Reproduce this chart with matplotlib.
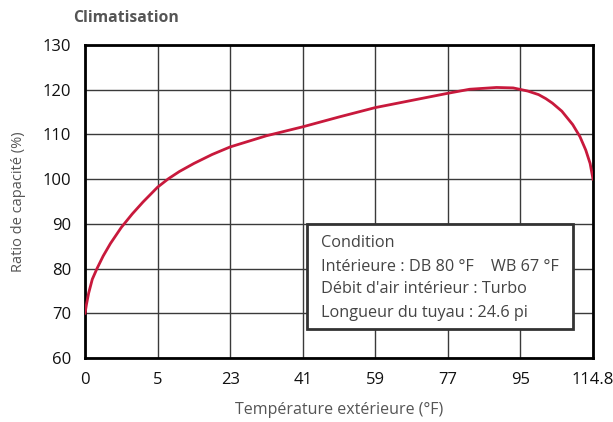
import matplotlib.pyplot as plt

# x axis is evenly spaced categories, curve is drawn on the index positions
etiquettes_x = ['0', '5', '23', '41', '59', '77', '95', '114.8']
graduations_y = [60, 70, 80, 90, 100, 110, 120, 130]

# points (position on the category axis, ratio %)
pos_courbe = [0, 0.02, 0.05, 0.1, 0.165, 0.25, 0.35, 0.5, 0.65, 0.8, 1.0,
              1.15, 1.3, 1.5, 1.75, 2.0, 2.5, 3.0, 3.5, 4.0, 4.5, 5.0, 5.3,
              5.67, 5.9, 6.1, 6.25, 6.35, 6.44, 6.57, 6.72, 6.82, 6.9, 6.96, 7.0]
ratio = [70, 72.0, 74.5, 77.6, 80.0, 82.8, 85.6, 89.2, 92.2, 94.9, 98.2,
         100.1, 101.7, 103.5, 105.5, 107.2, 109.7, 111.7, 113.9, 116.0, 117.6, 119.2, 120.1,
         120.5, 120.4, 119.7, 118.9, 118.0, 117.0, 115.2, 112.2, 109.5, 106.5, 103.5, 100]

conditions = ['Condition',
              'Intérieure : DB 80 °F    WB 67 °F',
              "Débit d'air intérieur : Turbo",
              'Longueur du tuyau : 24.6 pi']

plt.rcParams['font.family'] = ['Open Sans', 'DejaVu Sans']

fig = plt.figure(figsize=(6.13, 4.22), dpi=100)
ax = fig.add_axes([0.1387, 0.1517, 0.8287, 0.7417])

ax.plot(pos_courbe, ratio, color='#c8193c', lw=2, zorder=3,
        solid_joinstyle='round')

ax.set_xlim(0, 7)
ax.set_ylim(60, 130)
ax.set_xticks(range(len(etiquettes_x)))
ax.set_xticklabels(etiquettes_x)
ax.set_yticks(graduations_y)
ax.grid(True, color='#3a3a3a', lw=1)
ax.tick_params(length=0, labelsize=12, colors='#111111', pad=10)
ax.tick_params(axis='y', pad=10)
for s in ax.spines.values():
    s.set_linewidth(2)
    s.set_color('black')

ax.set_xlabel('Température extérieure (°F)', fontsize=11.5, color='#555555', labelpad=10)
ax.set_ylabel('Ratio de capacité (%)', fontsize=10.5, color='#555555', labelpad=12)

fig.text(0.119, 0.957, 'Climatisation', fontsize=11.3, fontweight='bold',
         color='#555555', va='center', ha='left')

# box with the test conditions
boite = plt.Rectangle((3.06, 66.5), 3.66, 23.5, facecolor='white',
                      edgecolor='#333333', lw=2, zorder=4)
ax.add_patch(boite)
y_txt = [85.7, 80.3, 75.4, 70.0]
for t, y in zip(conditions, y_txt):
    ax.text(3.25, y, t, fontsize=11.7, color='#444444', va='center', ha='left', zorder=5)

fig.savefig('out.png', dpi=100)
